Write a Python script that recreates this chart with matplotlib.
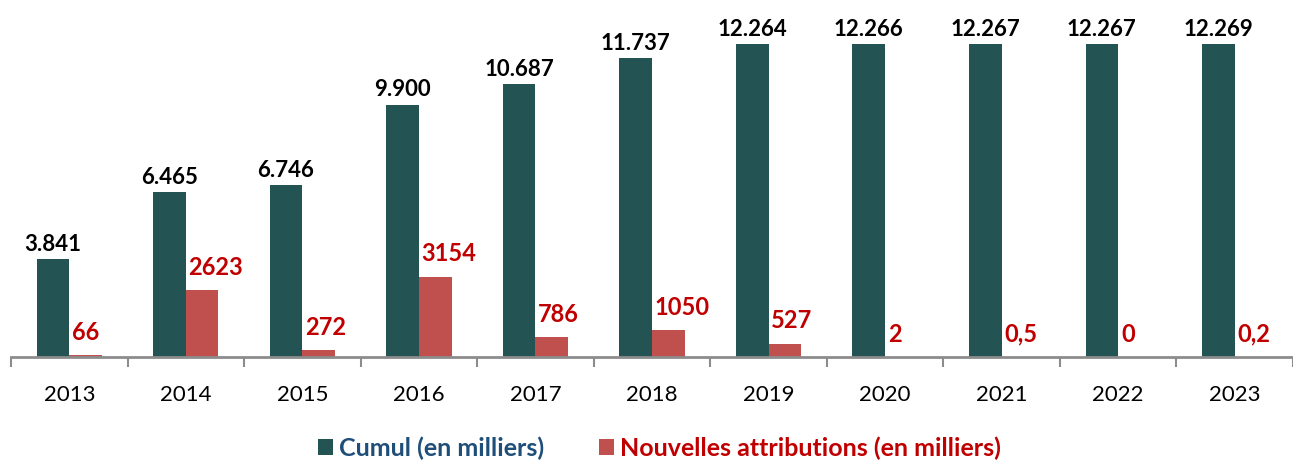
import matplotlib.pyplot as plt
import numpy as np

years = ['2013', '2014', '2015', '2016', '2017', '2018', '2019', '2020', '2021', '2022', '2023']
cumul = [3841, 6465, 6746, 9900, 10687, 11737, 12264, 12266, 12267, 12267, 12269]
cumul_labels = ['3.841', '6.465', '6.746', '9.900', '10.687', '11.737', '12.264', '12.266', '12.267', '12.267', '12.269']
nouvelles = [66, 2623, 272, 3154, 786, 1050, 527, 2, 0.5, 0, 0.2]
nouvelles_labels = ['66', '2623', '272', '3154', '786', '1050', '527', '2', '0,5', '0', '0,2']

plt.rcParams['font.family'] = ['Lato', 'DejaVu Sans']

teal = '#235453'
red = '#C0504D'

fig = plt.figure(figsize=(12.93, 4.61), dpi=100)
left = 11 / 1293
ax = fig.add_axes([left, 1 - 357 / 461, 1 - left, 357 / 461])

x = np.arange(len(years))
w = 0.28
b1 = ax.bar(x - w / 2, cumul, w, color=teal, label='Cumul (en milliers)')
b2 = ax.bar(x + w / 2, nouvelles, w, color=red, label='Nouvelles attributions (en milliers)')

# value labels: cumul centred, nouvelles start at the bar's left edge
for rect, lab in zip(b1, cumul_labels):
    ax.annotate(lab, (rect.get_x() + rect.get_width() / 2, rect.get_height()),
                xytext=(0, 3), textcoords='offset points', ha='center', va='bottom',
                fontsize=16, fontweight='bold', color='black')
for rect, lab in zip(b2, nouvelles_labels):
    ax.annotate(lab, (rect.get_x(), rect.get_height()),
                xytext=(2, 8), textcoords='offset points', ha='left', va='bottom',
                fontsize=17, fontweight='bold', color='#C00000')

ax.set_xlim(-0.5, (1293 - 11) / 117 - 0.5)
ax.set_ylim(0, 14000)

for s in ['top', 'right', 'left']:
    ax.spines[s].set_visible(False)
ax.spines['bottom'].set_color('#8C8C8C')
ax.spines['bottom'].set_linewidth(2)
ax.set_yticks([])

ax.set_xticks(np.arange(len(years) + 1) - 0.5, minor=True)
ax.set_xticks(x)
ax.set_xticklabels(years, fontsize=16)
ax.tick_params(axis='x', which='major', length=0, pad=20)
ax.tick_params(axis='x', which='minor', length=7, width=1.5, color='#8C8C8C')

leg = fig.legend(handles=[b1, b2], loc='center', bbox_to_anchor=(0.51, 0.028), ncol=2,
                 frameon=False, fontsize=18, handlelength=0.6, handleheight=0.6,
                 handletextpad=0.25, columnspacing=2.2, borderpad=0)
for t, c in zip(leg.get_texts(), ['#1F4E79', '#C00000']):
    t.set_color(c)
    t.set_fontweight('bold')

plt.savefig('out.png', dpi=100)
